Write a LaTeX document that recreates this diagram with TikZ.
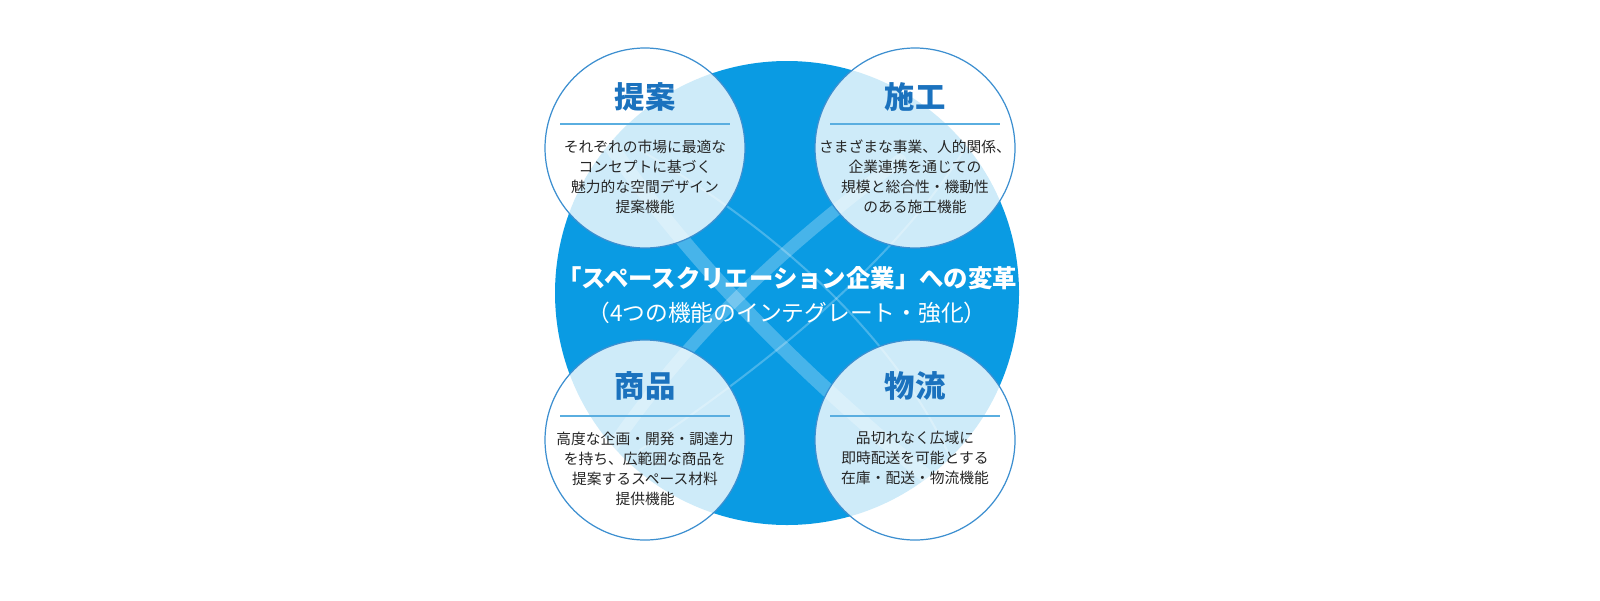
\documentclass[tikz,border=0pt]{standalone}
\usepackage{fontspec}
\newfontfamily\jp{Noto Sans CJK JP}
\definecolor{bigblue}{HTML}{0A9BE3}
\definecolor{blueline}{HTML}{3C8FD0}
\definecolor{headblue}{HTML}{1B72BE}
\definecolor{divline}{HTML}{5AAEE0}
\tikzset{
  head/.style={font=\jp\bfseries\fontsize{14.8}{15}\selectfont,text=headblue},
  body/.style={font=\jp\fontsize{7.2}{9.8}\selectfont,align=center,text=black!85},
  band/.style={white,opacity=0.25,line cap=round}}
\begin{document}
\begin{tikzpicture}[x=0.488pt,y=-0.488pt]
\useasboundingbox (0,0) rectangle (1600,600);
\fill[bigblue] (787,293) circle[radius=232];
\coordinate (big) at (787,293);
\begin{pgfinterruptboundingbox}
\begin{scope}
\clip (787,293) circle[radius=232];
\draw[band,line width=7pt] (600,130) .. controls (700,280) and (830,400) .. (980,520);
\draw[band,line width=6pt] (590,480) .. controls (680,340) and (780,250) .. (900,160);
\draw[band,line width=1pt] (640,150) .. controls (760,220) and (900,330) .. (960,480);
\draw[band,line width=1pt] (640,450) .. controls (760,370) and (900,260) .. (970,140);
\end{scope}
\end{pgfinterruptboundingbox}
\node[font=\jp\bfseries\fontsize{11.9}{14}\selectfont,text=white] (t1) at (787,278) {「スペースクリエーション企業」への変革};
\node[font=\jp\fontsize{11.1}{13}\selectfont,text=white] (t2) at (787,313) {（4つの機能のインテグレート・強化）};
\foreach \nm/\cx/\cy in {a/645/148,b/915/148,c/645/440,d/915/440}{
  \fill[white,opacity=0.8] (\cx,\cy) circle[radius=100];
  \draw[blueline,line width=0.6pt] (\cx,\cy) circle[radius=100];
  \coordinate (\nm) at (\cx,\cy);
  \draw[divline,line width=0.7pt] ({\cx-85},{\cy-24}) -- ({\cx+85},{\cy-24});
}
\node[head] (ha) at (645,97) {提案};
\node[head] (hb) at (915,97) {施工};
\node[head] (hc) at (645,386) {商品};
\node[head] (hd) at (915,386) {物流};
\node[body] (ba) at (645,177) {それぞれの市場に最適な\\コンセプトに基づく\\魅力的な空間デザイン\\提案機能};
\node[body] (bb) at (915,177) {さまざまな事業、人的関係、\\企業連携を通じての\\規模と総合性・機動性\\のある施工機能};
\node[body] (bc) at (645,469) {高度な企画・開発・調達力\\を持ち、広範囲な商品を\\提案するスペース材料\\提供機能};
\node[body] (bd) at (915,458) {品切れなく広域に\\即時配送を可能とする\\在庫・配送・物流機能};
\end{tikzpicture}
\end{document}
